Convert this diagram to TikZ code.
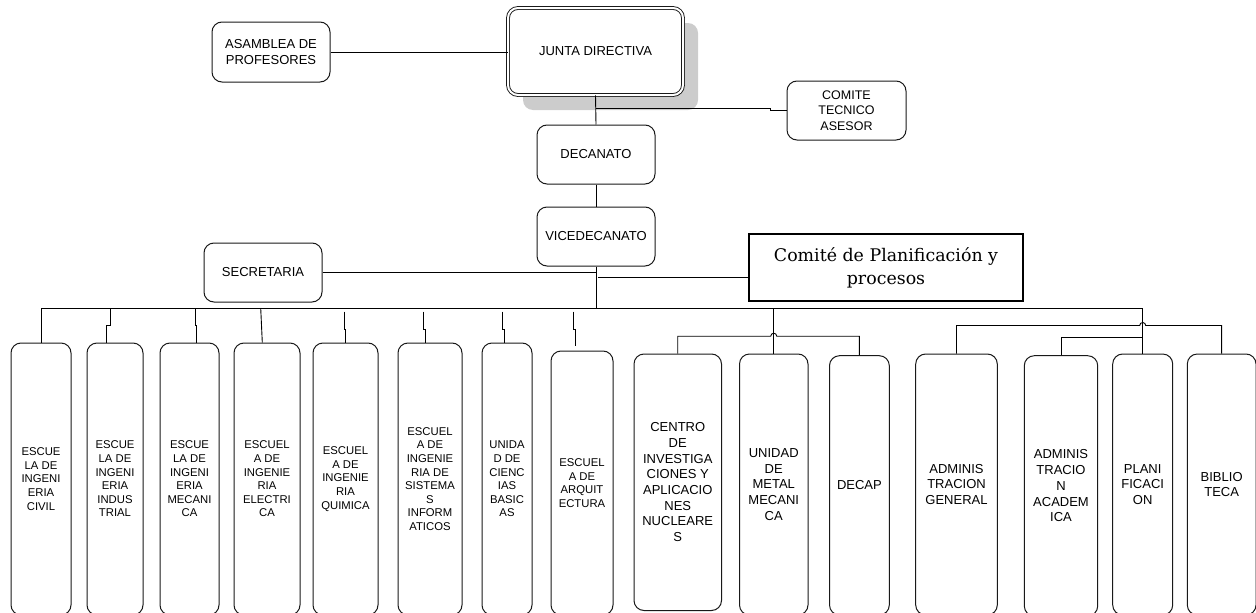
\documentclass[tikz,border=0pt]{standalone}
\usepackage{fontspec}
\setmainfont{Liberation Sans}
\newfontfamily\plannerfont{DejaVu Serif}
\usetikzlibrary{shadows}

% place a box node by its corner coordinates: name, style, x1, y1, x2, y2, text
\newcommand{\orgunit}[7]{%
  \node[#2, minimum width={#5-#3}, minimum height={#6-#4}] (#1) at ({(#3+#5)/2},{(#4+#6)/2}) {#7};}

\begin{document}
\begin{tikzpicture}[x=1pt,y=-1pt,
  unit/.style={draw=black!90, line width=1pt, rounded corners=10pt, align=center,
    inner sep=0pt, fill=white, font=\fontsize{13}{15.7}\selectfont},
  school/.style={unit, font=\fontsize{11.3}{13.6}\selectfont},
  planbox/.style={draw=black, line width=2pt, align=center, inner sep=0pt, fill=white,
    font=\plannerfont\fontsize{17.4}{23}\selectfont},
  wire/.style={draw=black, line width=0.9pt}]
\useasboundingbox (0,0) rectangle (1256,613);

% governing bodies
\orgunit{asamblea}{unit}{212}{22}{330}{82}{ASAMBLEA DE\\PROFESORES}
\node[unit, double, double distance=2pt, line width=0.9pt, minimum width=175, minimum height=87,
  drop shadow={shadow xshift=15pt, shadow yshift=-15pt, fill=gray!40, opacity=1}]
  (junta) at (595.5,51.5) {JUNTA DIRECTIVA};
\orgunit{comite}{unit, font=\fontsize{12.5}{15.3}\selectfont}{787}{81}{906}{140}{COMITE\\TECNICO\\ASESOR}
\orgunit{decanato}{unit}{537}{125}{655}{184}{DECANATO}
\orgunit{vice}{unit}{537}{207}{655}{266}{VICEDECANATO}
\orgunit{secretaria}{unit}{204}{243}{322}{302}{SECRETARIA}
\orgunit{cpp}{planbox}{749}{234}{1023}{301}{Comité de Planificación y\\procesos}

% schools
\orgunit{b1}{school}{11}{343}{71}{615}{ESCUE\\LA DE\\INGENI\\ERIA\\CIVIL}
\orgunit{b2}{school}{87}{343}{143}{615}{ESCUE\\LA DE\\INGENI\\ERIA\\INDUS\\TRIAL}
\orgunit{b3}{school}{160}{343}{219}{615}{ESCUE\\LA DE\\INGENI\\ERIA\\MECANI\\CA}
\orgunit{b4}{school}{234}{343}{300}{615}{ESCUEL\\A DE\\INGENIE\\RIA\\ELECTRI\\CA}
\orgunit{b5}{school}{313}{343}{378}{615}{ESCUEL\\A DE\\INGENIE\\RIA\\QUIMICA}
\orgunit{b6}{school}{398}{343}{462}{615}{ESCUEL\\A DE\\INGENIE\\RIA DE\\SISTEMA\\S\\INFORM\\ATICOS}
\orgunit{b7}{school}{482}{343}{532}{615}{UNIDA\\D DE\\CIENC\\IAS\\BASIC\\AS}
\orgunit{b8}{school}{551}{351}{613}{615}{ESCUEL\\A DE\\ARQUIT\\ECTURA}

% centres and units
\orgunit{b9}{unit}{634}{354}{721.5}{610.5}{CENTRO\\DE\\INVESTIGA\\CIONES Y\\APLICACIO\\NES\\NUCLEARE\\S}
\orgunit{b10}{unit}{739.5}{354}{808}{615}{UNIDAD\\DE\\METAL\\MECANI\\CA}
\orgunit{b11}{unit}{829.5}{355.7}{889.3}{615}{DECAP}
\orgunit{b12}{unit}{915.7}{354}{997.3}{615}{ADMINIS\\TRACION\\GENERAL}
\orgunit{b13}{unit}{1024.3}{355.7}{1097.7}{616}{ADMINIS\\TRACIO\\N\\ACADEM\\ICA}
\orgunit{b14}{unit}{1112.7}{354}{1172.7}{615}{PLANI\\FICACI\\ON}
\orgunit{b15}{unit}{1187.3}{354}{1256}{615}{BIBLIO\\TECA}

% upper connectors
\draw[wire] (asamblea.east) -- (asamblea.east -| junta.west);
\draw[wire] (junta.south) -- (decanato.north);
\coordinate (jc) at (595.5,108.3);
\draw[wire] (jc) -- ++(174.5,0) |- (comite.west);
\draw[wire] (decanato.south) -- (vice.north);
\coordinate (hub) at (596,308);
\draw[wire] (vice.south) -- (hub);
\draw[wire] (secretaria.east) -- (secretaria.east -| hub);
\draw[wire] ([yshift=-10pt]cpp.west) -- ++(-150,0);

% main bus
\draw[wire] (b1.north |- hub) -- (b14.north |- hub) -- (b14.north);
\draw[wire] (b1.north |- hub) -- (b1.north);

% school drops
\coordinate (k2) at (110.7,308);
\coordinate (k3) at (195,308);
\coordinate (k4) at (260.7,308);
\coordinate (k5) at (344,311.7);
\coordinate (k6) at (423.3,311.7);
\coordinate (k7) at (502.3,311.7);
\coordinate (k8) at (573.3,311.7);
\draw[wire] (k2) -- ++(0,17) -| ([xshift=-9pt]b2.north);
\draw[wire] (k3) -- ++(0,17) -| ([xshift=7.2pt]b3.north);
\draw[wire] (k4) -- ([xshift=-4.7pt]b4.north);
\draw[wire] (k5) -- ++(0,17.6) -| ([xshift=0.2pt]b5.north);
\draw[wire] (k6) -- ++(0,17.6) -| ([xshift=-5pt]b6.north);
\draw[wire] (k7) -- ++(0,17.6) -| ([xshift=-3pt]b7.north);
\draw[wire] (k8) -- ++(0,17.6) -| ([xshift=-6.3pt,yshift=4.3pt]b8.north);

% centre group
\draw[wire] (b10.north |- hub) -- (b10.north);
\draw[wire] (b9.north) |- ([xshift=-3pt,yshift=17.3pt]b10.north)
  arc[start angle=180,end angle=0,radius=3pt] -| (b11.north);

% administration group
\draw[wire] (b12.north) |- ([xshift=-3pt,yshift=28pt]b14.north)
  arc[start angle=180,end angle=0,radius=3pt] -| (b15.north);
\draw[wire] (b13.north) |- ([yshift=15.7pt]b14.north);
\end{tikzpicture}
\end{document}
